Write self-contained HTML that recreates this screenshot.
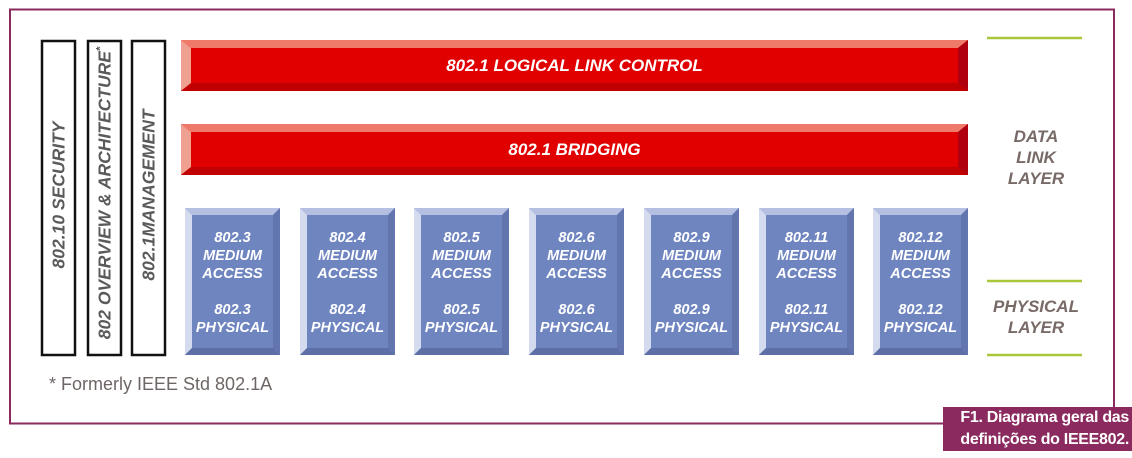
<!DOCTYPE html>
<html><head><meta charset="utf-8"><style>
body{margin:0;width:1132px;height:458px;background:#fff;position:relative;overflow:hidden;font-family:"Liberation Sans",Arial,sans-serif}
.a{position:absolute}
.v{position:absolute;white-space:nowrap;font-weight:bold;font-style:italic;font-size:17.5px;color:#5a5a5a;transform:translate(-50%,-50%) rotate(-90deg);}
.bt{position:absolute;width:95px;text-align:center;color:#fff;font-weight:bold;font-style:italic;font-size:14.5px;line-height:18px}
.lay{position:absolute;text-align:center;color:#786a66;font-weight:bold;font-style:italic;font-size:17px;line-height:21px;width:120px}
</style></head><body>
<svg class="a" style="left:0;top:0" width="1132" height="458">
<rect x="10" y="9.5" width="1104" height="414" fill="none" stroke="#8b2a5e" stroke-width="2"/>
<rect x="42" y="41" width="33" height="314" fill="#fff" stroke="#111" stroke-width="2.5"/>
<rect x="88" y="41" width="33" height="314" fill="#fff" stroke="#111" stroke-width="2.5"/>
<rect x="132" y="41" width="33" height="314" fill="#fff" stroke="#111" stroke-width="2.5"/>
<g id="r1">
<rect x="181" y="40" width="787" height="51" fill="#e00000"/>
<polygon points="181,40 968,40 958,48 191,48" fill="#ef7a6a"/>
<polygon points="181,40 191,48 191,83 181,91" fill="#f0a090"/>
<polygon points="181,91 191,83 958,83 968,91" fill="#c00000"/>
<polygon points="968,40 958,48 958,83 968,91" fill="#b00010"/>
</g>
<use href="#r1" y="84"/>
<g id="b1">
<rect x="185" y="208" width="95" height="147" fill="#6f85c0"/>
<polygon points="185,208 280,208 273,215 192,215" fill="#b4bfe2"/>
<polygon points="185,208 192,215 192,348 185,355" fill="#d4dbef"/>
<polygon points="185,355 192,348 273,348 280,355" fill="#5d6fa6"/>
<polygon points="280,208 273,215 273,348 280,355" fill="#6275ad"/>
</g>
<use href="#b1" x="115"/><use href="#b1" x="229"/><use href="#b1" x="344"/><use href="#b1" x="459"/><use href="#b1" x="574"/><use href="#b1" x="688"/>
<g stroke="#a8c83a" stroke-width="2.5"><line x1="987" y1="38" x2="1082" y2="38"/><line x1="987" y1="281" x2="1082" y2="281"/><line x1="987" y1="355" x2="1082" y2="355"/></g>
<rect x="943" y="407" width="189" height="44" fill="#8b2a5e"/>
</svg>
<div class="v" style="left:59px;top:195px">802.10 SECURITY</div>
<div class="v" style="left:105px;top:193px">802 OVERVIEW &amp; ARCHITECTURE<sup style="font-size:11px">*</sup></div>
<div class="v" style="left:149px;top:195px">802.1MANAGEMENT</div>
<div class="a" style="left:181px;top:56px;width:787px;text-align:center;color:#fff;font-weight:bold;font-style:italic;font-size:17px">802.1 LOGICAL LINK CONTROL</div>
<div class="a" style="left:181px;top:140px;width:787px;text-align:center;color:#fff;font-weight:bold;font-style:italic;font-size:17px">802.1 BRIDGING</div>
<div class="bt" style="left:185px;top:229px">802.3<br>MEDIUM<br>ACCESS<br><br>802.3<br>PHYSICAL</div>
<div class="bt" style="left:300px;top:229px">802.4<br>MEDIUM<br>ACCESS<br><br>802.4<br>PHYSICAL</div>
<div class="bt" style="left:414px;top:229px">802.5<br>MEDIUM<br>ACCESS<br><br>802.5<br>PHYSICAL</div>
<div class="bt" style="left:529px;top:229px">802.6<br>MEDIUM<br>ACCESS<br><br>802.6<br>PHYSICAL</div>
<div class="bt" style="left:644px;top:229px">802.9<br>MEDIUM<br>ACCESS<br><br>802.9<br>PHYSICAL</div>
<div class="bt" style="left:759px;top:229px">802.11<br>MEDIUM<br>ACCESS<br><br>802.11<br>PHYSICAL</div>
<div class="bt" style="left:873px;top:229px">802.12<br>MEDIUM<br>ACCESS<br><br>802.12<br>PHYSICAL</div>
<div class="lay" style="left:976px;top:126px">DATA<br>LINK<br>LAYER</div>
<div class="lay" style="left:976px;top:296px">PHYSICAL<br>LAYER</div>
<div class="a" style="left:49px;top:374px;color:#6e6664;font-size:18px">* Formerly IEEE Std 802.1A</div>
<div class="a" style="left:943px;top:407px;width:186px;text-align:right;color:#fff;font-weight:bold;font-size:16px;line-height:22px;letter-spacing:-0.3px">F1. Diagrama geral das<br>definições do IEEE802.</div>
</body></html>
